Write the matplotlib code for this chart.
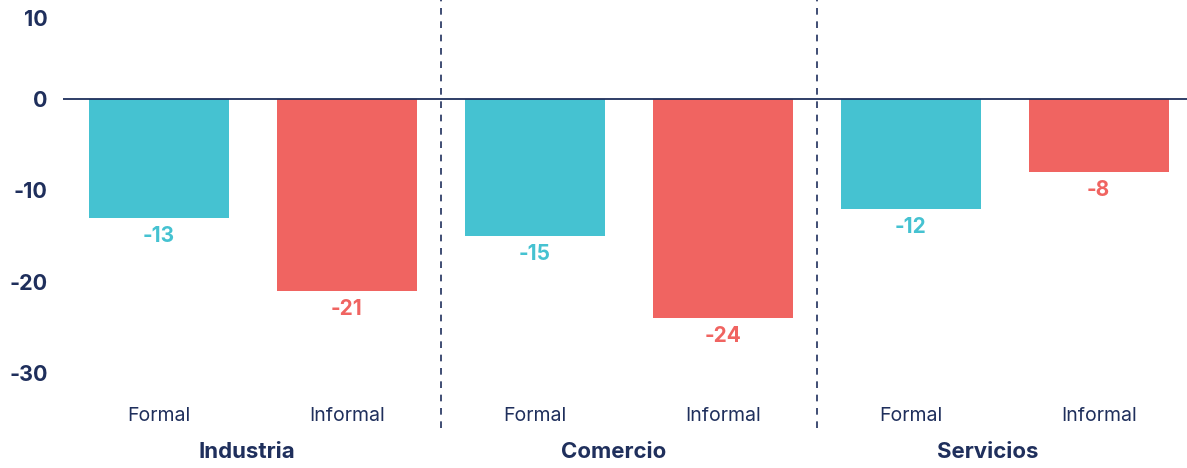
import numpy as np
import matplotlib
matplotlib.use('Agg')
import matplotlib.pyplot as plt
import matplotlib.transforms as mtransforms

plt.rcParams['font.family'] = ['Inter', 'DejaVu Sans']

sectors = ['Industria', 'Comercio', 'Servicios']
sector_pos = [0.47, 2.42, 4.41]
kinds = ['Formal', 'Informal']
values = [-13, -21, -15, -24, -12, -8]
yticks = [10, 0, -10, -20, -30]

navy = '#1f2f5c'
teal = '#45c2d1'
red = '#f06461'
colors = [teal, red] * len(sectors)

fig = plt.figure(figsize=(11.87, 4.68), dpi=100)
ax = fig.add_axes([63 / 1187, 1 - 428 / 468, 1 - 63 / 1187, 428 / 468])

x = np.arange(len(values))
ax.bar(x, values, width=0.745, color=colors, zorder=2)
ax.axhline(0, color=navy, lw=1.3, zorder=3)

ax.set_xlim(-0.51, 5.47)
ax.set_ylim(-36, 10.8)

# value labels under each bar
for xi, v, c in zip(x, values, colors):
    ax.text(xi, v - 0.9, str(v), ha='center', va='top', color=c,
            fontsize=15, fontweight='bold')

# dashed separators between sectors
for sx in [1.5, 3.5]:
    ax.axvline(sx, color=navy, lw=1.2, ls=(0, (4, 4)), zorder=1)

# formal / informal labels inside the bottom of the axes
for xi in x:
    ax.text(xi, -34.7, kinds[xi % 2], ha='center', va='center',
            color=navy, fontsize=14)

# sector names below
for s, sp in zip(sectors, sector_pos):
    ax.text(sp, -0.055, s, transform=ax.get_xaxis_transform(),
            ha='center', va='center', color=navy, fontsize=16,
            fontweight='bold')

ax.set_xticks([])
ax.set_yticks(yticks)
ax.set_yticklabels([str(t) for t in yticks], fontsize=15.5,
                   fontweight='bold', color=navy)
ax.tick_params(axis='y', length=0, pad=11)
# top label sits a little lower so it stays inside the figure
shift = mtransforms.ScaledTranslation(0, -10.5 / 100, fig.dpi_scale_trans)
for lbl in ax.get_yticklabels():
    if lbl.get_text() == '10':
        lbl.set_transform(lbl.get_transform() + shift)
for sp in ax.spines.values():
    sp.set_visible(False)

fig.savefig('out.png', dpi=100)
